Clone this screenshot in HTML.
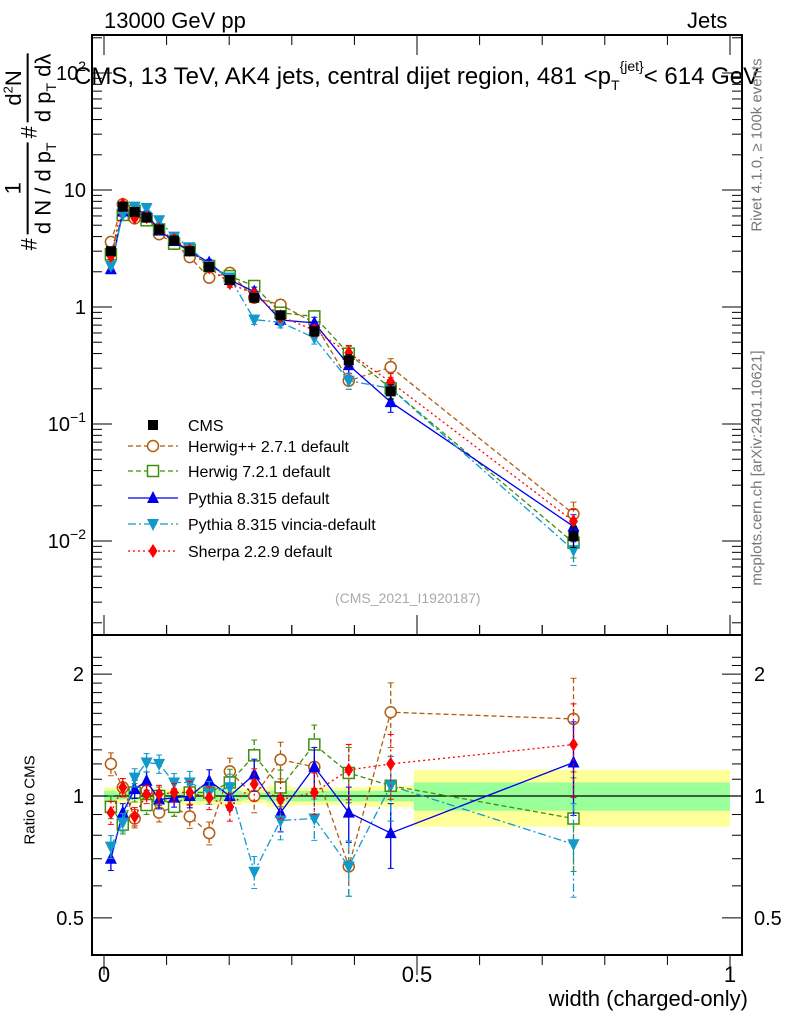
<!DOCTYPE html>
<html><head><meta charset="utf-8"><style>
body{margin:0;background:#fff}
svg text{font-family:"Liberation Sans",sans-serif}
</style></head><body>
<svg id="c" width="786" height="1024" xmlns="http://www.w3.org/2000/svg"></svg>
<script>
const xs=[0.011,0.030,0.049,0.068,0.088,0.112,0.137,0.168,0.201,0.240,0.282,0.336,0.391,0.458,0.750];
const cms=[3.0,7.2,6.5,5.8,4.6,3.7,3.0,2.2,1.7,1.2,0.85,0.62,0.35,0.19,0.011];
const cmsErr=[0.05,0.04,0.04,0.04,0.04,0.04,0.05,0.05,0.06,0.07,0.08,0.09,0.12,0.14,0.2];
const rHerpp=[1.20,1.05,0.88,1.03,0.91,0.94,0.89,0.81,1.15,1.00,1.23,1.18,0.67,1.61,1.55];
const rHer7=[0.94,0.85,1.02,0.95,1.00,0.94,1.02,1.02,1.08,1.26,1.05,1.34,1.14,1.06,0.88];
const rPy=[0.70,0.91,1.04,1.09,0.98,0.99,1.00,1.09,1.00,1.13,0.91,1.18,0.91,0.81,1.21];
const rVin=[0.75,0.86,1.11,1.21,1.20,1.08,1.08,1.02,1.05,0.65,0.87,0.88,0.67,1.06,0.76];
const rSh=[0.91,1.05,0.89,1.01,1.01,1.02,1.02,0.99,0.94,1.07,0.98,1.02,1.16,1.20,1.34];
const bandEdges=[0,0.02,0.04,0.06,0.08,0.1,0.124,0.15,0.185,0.22,0.26,0.3,0.36,0.42,0.495,1.0];
const bandYellow=[0.05,0.04,0.04,0.04,0.04,0.04,0.05,0.05,0.05,0.04,0.06,0.05,0.05,0.06,0.16];
const bandGreen=[0.03,0.02,0.02,0.02,0.02,0.02,0.03,0.03,0.03,0.02,0.03,0.03,0.03,0.03,0.08];
const topTicks=[["10^{-2}",0.01],["10^{-1}",0.1],["1",1],["10",10],["10^2",100]];
const ratioTicks=[["0.5",0.5],["1",1],["2",2]];
const xTicks=[["0",0],["0.5",0.5],["1",1]];

const NS="http://www.w3.org/2000/svg",svg=document.getElementById('c');
function el(t,a,p){const e=document.createElementNS(NS,t);for(const k in a)e.setAttribute(k,a[k]);(p||svg).appendChild(e);return e;}
const L=92,R=742,T=35,M=635,B=955;
const X=v=>104+v*626;
const Y=v=>307-Math.log10(v)*117;
const YR=v=>796-Math.log10(v)*405;
bandEdges.slice(0,-1).forEach((e,i)=>{
 const x1=X(e),x2=X(bandEdges[i+1]);
 const b=el('rect',{x:x1,y:YR(1+bandYellow[i]),width:x2-x1,height:YR(1-bandYellow[i])-YR(1+bandYellow[i]),fill:'#ffff99'});
 
 const g=el('rect',{x:x1,y:YR(1+bandGreen[i]),width:x2-x1,height:YR(1-bandGreen[i])-YR(1+bandGreen[i]),fill:'#99ff99'});
 
});
el('line',{x1:L,x2:R,y1:YR(1),y2:YR(1),stroke:'#000','stroke-width':1.2});
const f1=el('rect',{x:L,y:T,width:R-L,height:M-T,fill:'none',stroke:'#000','stroke-width':2});

const f2=el('rect',{x:L,y:M,width:R-L,height:B-M,fill:'none',stroke:'#000','stroke-width':2});

for(let d=-3;d<=2;d++)for(let m=1;m<10;m++){const v=m*Math.pow(10,d),y=Y(v);if(y<T||y>M)continue;const len=m==1?20:10;
 el('line',{x1:L,x2:L+len,y1:y,y2:y,stroke:'#000'});el('line',{x1:R,x2:R-len,y1:y,y2:y,stroke:'#000'});}
topTicks.forEach(([s,v])=>{const y=Y(v);const t=el('text',{x:L-6,y:y+7,'font-size':20,'text-anchor':'end'});
 const m=s.match(/10\^\{?([^}]*)\}?/);if(m){t.textContent='10';const sp=el('tspan',{dy:-9,'font-size':14},t);sp.textContent=m[1].replace('-','−');}else t.textContent=s;
 });
[0.5,0.6,0.7,0.8,0.9,1,1.1,1.2,1.3,1.4,1.5,1.6,1.7,1.8,1.9,2,2.1,2.2].forEach(v=>{const y=YR(v);if(y<M||y>B)return;const len=(v==0.5||v==1||v==2)?20:10;
 el('line',{x1:L,x2:L+len,y1:y,y2:y,stroke:'#000'});el('line',{x1:R,x2:R-len,y1:y,y2:y,stroke:'#000'});});
ratioTicks.forEach(([s,v])=>{[[L-8,'end'],[R+12,'start']].forEach(([x,a])=>{const t=el('text',{x:x,y:YR(v)+7,'font-size':20,'text-anchor':a});t.textContent=s;
 });});
for(let i=0;i<=10;i++){const x=X(i/10),len=i%5==0?20:10;
 [[M,1],[B,-1]].forEach(([y,s])=>{el('line',{x1:x,x2:x,y1:y-s*len,y2:y,stroke:'#000'});});
 [[T,1],[M,-1]].forEach(([y,s])=>{el('line',{x1:x,x2:x,y1:y+s*len,y2:y,stroke:'#000'});});}
xTicks.forEach(([s,v])=>{const t=el('text',{x:X(v),y:982,'font-size':22,'text-anchor':'middle'});t.textContent=s;
 });
const series=[
 {n:'herwig-pp',r:rHerpp,c:'#b15c0e',d:'5,3',m:'circle',lab:'Herwig++ 2.7.1 default'},
 {n:'herwig7',r:rHer7,c:'#3f8f0a',d:'5,3',m:'square',lab:'Herwig 7.2.1 default'},
 {n:'pythia',r:rPy,c:'#0000ee',d:'',m:'up',lab:'Pythia 8.315 default'},
 {n:'vincia',r:rVin,c:'#1199cc',d:'8,3,2,3',m:'down',lab:'Pythia 8.315 vincia-default'},
 {n:'sherpa',r:rSh,c:'#ff0000',d:'2,3',m:'diamond',lab:'Sherpa 2.2.9 default'}];
function marker(type,x,y,c,g){let e;
 if(type=='circle')e=el('circle',{cx:x,cy:y,r:5.5,fill:'#fff',stroke:c,'stroke-width':1.5},g);
 else if(type=='square')e=el('rect',{x:x-5.5,y:y-5.5,width:11,height:11,fill:'#fff',stroke:c,'stroke-width':1.5},g);
 else if(type=='fsquare')e=el('rect',{x:x-5,y:y-5,width:10,height:10,fill:c},g);
 else if(type=='up')e=el('polygon',{points:`${x},${y-7} ${x-6},${y+5} ${x+6},${y+5}`,fill:c},g);
 else if(type=='down')e=el('polygon',{points:`${x},${y+7} ${x-6},${y-5} ${x+6},${y-5}`,fill:c},g);
 else e=el('polygon',{points:`${x},${y-7} ${x-4.5},${y} ${x},${y+7} ${x+4.5},${y}`,fill:c},g);
 return e;}
function errbar(x,y1,y2,c,d,g){el('line',{x1:x,x2:x,y1:y1,y2:y2,stroke:c,'stroke-width':1.3,'stroke-dasharray':d},g);
 el('line',{x1:x-3,x2:x+3,y1:y1,y2:y1,stroke:c},g);el('line',{x1:x-3,x2:x+3,y1:y2,y2:y2,stroke:c},g);}
series.forEach(s=>{
 const g=el('g',{});
 const gr=el('g',{});
 const pts=xs.map((x,i)=>[X(x),Y(cms[i]*s.r[i])]);
 el('polyline',{points:pts.map(p=>p.join(',')).join(' '),fill:'none',stroke:s.c,'stroke-width':1.3,'stroke-dasharray':s.d},g);
 const rp=xs.map((x,i)=>[X(x),YR(s.r[i])]);
 el('polyline',{points:rp.map(p=>p.join(',')).join(' '),fill:'none',stroke:s.c,'stroke-width':1.3,'stroke-dasharray':s.d},gr);
 xs.forEach((x,i)=>{const e=cmsErr[i]*1.3;const v=cms[i]*s.r[i];
  errbar(X(x),Y(v*(1+e)),Y(v*(1-e)),s.c,s.d,g);
  errbar(X(x),YR(s.r[i]*(1+e)),YR(s.r[i]*(1-e)),s.c,s.d,gr);
  const m=marker(s.m,X(x),Y(v),s.c,g);
  const m2=marker(s.m,X(x),YR(s.r[i]),s.c,gr);});
});
const gc=el('g',{});
xs.forEach((x,i)=>{errbar(X(x),Y(cms[i]*(1+cmsErr[i])),Y(cms[i]*(1-cmsErr[i])),'#000','',gc);
 const m=marker('fsquare',X(x),Y(cms[i]),'#000',gc);});
const lg=el('g',{});
const ly=[425,446,471,498,524,551];
marker('fsquare',153,ly[0],'#000',lg);
const lt=el('text',{x:188,y:ly[0]+6,'font-size':16},lg);lt.textContent='CMS';
series.forEach((s,i)=>{const y=ly[i+1];
 el('line',{x1:128,x2:178,y1:y,y2:y,stroke:s.c,'stroke-width':1.3,'stroke-dasharray':s.d},lg);
 marker(s.m,153,y,s.c,lg);
 const t=el('text',{x:188,y:y+6,'font-size':16},lg);t.textContent=s.lab;
 });
</script>
<div style="position:absolute;left:0;top:0;width:786px;height:1024px;pointer-events:none;font-family:'Liberation Sans',sans-serif">
<div style="position:absolute;left:104px;top:8px;font-size:22px">13000 GeV pp</div>
<div style="position:absolute;left:687px;top:8px;font-size:22px">Jets</div>
<div style="position:absolute;left:74px;top:62px;font-size:24px;white-space:nowrap">CMS, 13 TeV, AK4 jets, central dijet region, 481 &lt;p<sub style="font-size:14px">T</sub><sup style="font-size:14px;position:relative;top:-4px">{jet}</sup>&lt; 614 GeV</div>
<div style="position:absolute;left:335px;top:590px;font-size:14px;color:#aaa">(CMS_2021_I1920187)</div>
<div style="position:absolute;right:38px;top:986px;font-size:22px">width (charged-only)</div>
<div style="position:absolute;left:30px;top:800px;font-size:15px;transform:translate(-50%,-50%) rotate(-90deg);white-space:nowrap">Ratio to CMS</div>
<div style="position:absolute;left:757px;top:145px;font-size:15px;color:#777;transform:translate(-50%,-50%) rotate(-90deg);white-space:nowrap">Rivet 4.1.0, ≥ 100k events</div>
<div style="position:absolute;left:757px;top:468px;font-size:15px;color:#777;transform:translate(-50%,-50%) rotate(-90deg);white-space:nowrap">mcplots.cern.ch [arXiv:2401.10621]</div>
<div style="position:absolute;left:30px;top:152px;transform:translate(-50%,-50%) rotate(-90deg);white-space:nowrap;font-size:22px;display:flex;align-items:center">
 <span style="margin-right:4px">#</span>
 <span style="display:inline-flex;flex-direction:column;align-items:center"><span>1</span><span style="border-top:2px solid #000;padding-top:2px">d N / d p<sub style="font-size:14px">T</sub></span></span>
 <span style="margin:0 4px">#</span>
 <span style="display:inline-flex;flex-direction:column;align-items:center"><span>d<sup style="font-size:13px">2</sup>N</span><span style="border-top:2px solid #000;padding-top:2px">d p<sub style="font-size:14px">T</sub> dλ</span></span>
</div>
</div>
</body></html>
